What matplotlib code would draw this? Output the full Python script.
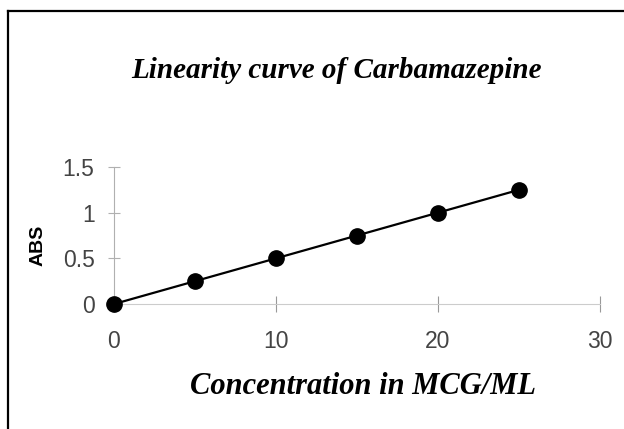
import matplotlib
matplotlib.use("Agg")
import matplotlib.pyplot as plt
from matplotlib.lines import Line2D

# data
conc = [0, 5, 10, 15, 20, 25]
absorb = [0, 0.25, 0.5, 0.75, 1.0, 1.25]
xticks = [0, 10, 20, 30]
yticks = [0, 0.5, 1, 1.5]
ytick_labels = ["0", "0.5", "1", "1.5"]

fig = plt.figure(figsize=(6.24, 4.29), dpi=100)
fig.patch.set_facecolor("white")

# frame lines (left and top only)
W, H = 624, 429
fig.add_artist(Line2D([8 / W, 8 / W], [0, 1 - 11 / H], color="black", lw=1.6, transform=fig.transFigure))
fig.add_artist(Line2D([8 / W, 1], [1 - 11 / H, 1 - 11 / H], color="black", lw=1.6, transform=fig.transFigure))

ax = fig.add_axes([114 / W, 1 - 304 / H, (600 - 114) / W, (304 - 167) / H])
ax.plot(conc, absorb, color="black", lw=1.6, marker="o", markersize=11,
        markerfacecolor="black", markeredgecolor="black", clip_on=False, zorder=3)

ax.set_xlim(0, 30)
ax.set_ylim(0, 1.5)
ax.set_xticks(xticks)
ax.set_yticks(yticks)
ax.set_yticklabels(ytick_labels)

for s in ["top", "right"]:
    ax.spines[s].set_visible(False)
ax.spines["left"].set_color("#b0b0b0")
ax.spines["bottom"].set_color("#cccccc")
ax.spines["left"].set_linewidth(0.8)
ax.spines["bottom"].set_linewidth(0.8)

ax.tick_params(axis="x", direction="inout", length=12, width=0.8, color="#999999",
               labelsize=16.5, labelcolor="#444444", pad=13)
ax.tick_params(axis="y", direction="inout", length=8, width=0.8, color="#b0b0b0",
               labelsize=16.5, labelcolor="#444444", pad=10)
for lab in ax.get_xticklabels() + ax.get_yticklabels():
    lab.set_family("Liberation Sans")

fig.text(336 / W, 1 - 70 / H, "Linearity curve of Carbamazepine", ha="center", va="center",
         fontsize=21, fontweight="bold", fontstyle="italic", family="Liberation Serif")
fig.text(363 / W, 1 - 387 / H, "Concentration in MCG/ML", ha="center", va="center",
         fontsize=22, fontweight="bold", fontstyle="italic", family="Liberation Serif")
fig.text(38 / W, 1 - 245 / H, "ABS", ha="center", va="center", rotation=90,
         fontsize=14, fontweight="bold", family="Liberation Sans")

fig.savefig("out.png", dpi=100, facecolor="white")
